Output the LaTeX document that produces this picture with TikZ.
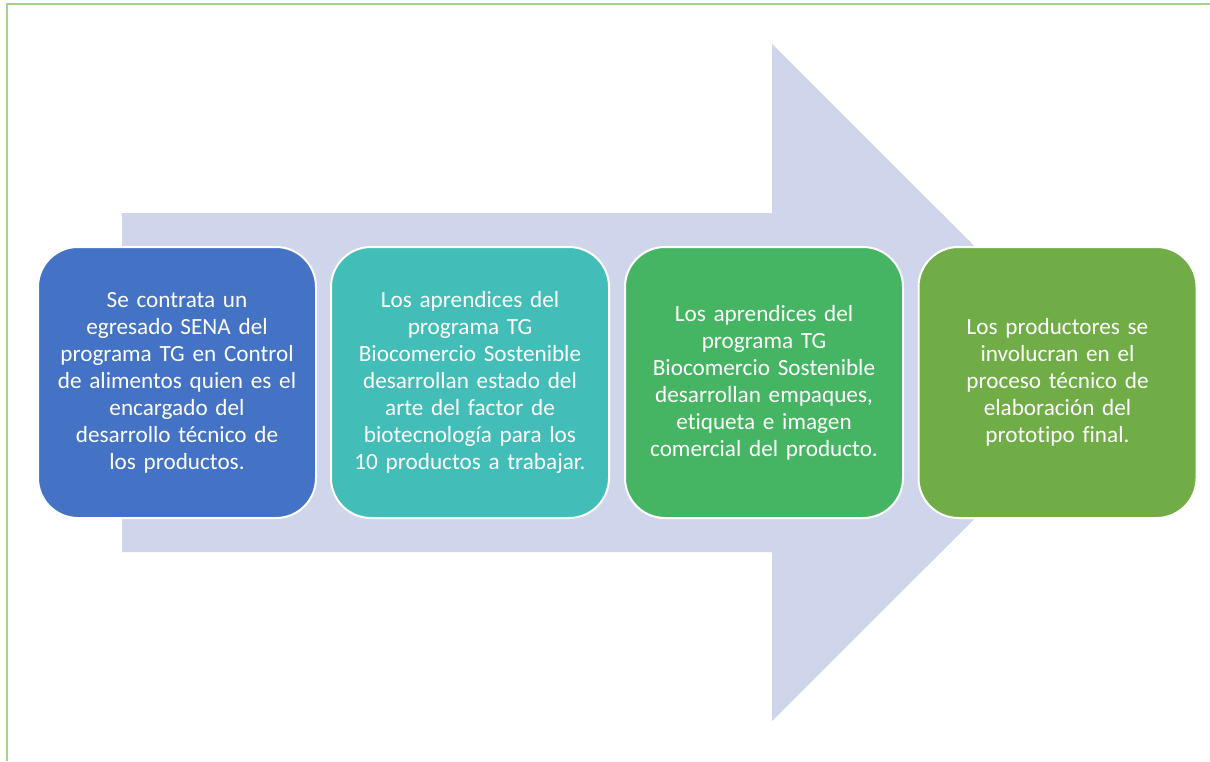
\documentclass[tikz,border=0pt]{standalone}
\usepackage{fontspec}
\setmainfont{Carlito}[Ligatures=NoCommon]
\definecolor{arrowfill}{HTML}{CFD5EA}
\definecolor{frameline}{HTML}{A9D18E}
\definecolor{cA}{HTML}{4472C4}
\definecolor{cB}{HTML}{42BDB7}
\definecolor{cC}{HTML}{46B563}
\definecolor{cD}{HTML}{70AD47}
\tikzset{
  stepbox/.style={rounded corners=40pt, draw=white, line width=2pt,
    minimum width=278pt, minimum height=271pt, text width=270pt,
    align=center, text=white, inner sep=0pt,
    font=\fontsize{23.2}{27}\selectfont},
}
\begin{document}
\begin{tikzpicture}[x=1pt,y=-1pt]
\useasboundingbox (0,0) rectangle (1210,761);
\fill[white] (0,0) rectangle (1210,761);
% frame
\draw[frameline, line width=1.5pt] (7,761) -- (7,4) -- (1210,4);
% big arrow
\fill[arrowfill] (122,213) -- (772,213) -- (772,44) -- (1111,382.5)
  -- (772,721) -- (772,552) -- (122,552) -- cycle;
% steps
\node[stepbox, fill=cA] (s1) at (177,382.5) {Se contrata un\\egresado SENA del\\programa TG en Control\\de alimentos quien es el\\encargado del\\desarrollo técnico de\\los productos.};
\node[stepbox, fill=cB] (s2) at (470,382.5) {Los aprendices del\\programa TG\\Biocomercio Sostenible\\desarrollan estado del\\arte del factor de\\biotecnología para los\\10 productos a trabajar.};
\node[stepbox, fill=cC] (s3) at (764,382.5) {Los aprendices del\\programa TG\\Biocomercio Sostenible\\desarrollan empaques,\\etiqueta e imagen\\comercial del producto.};
\node[stepbox, fill=cD] (s4) at (1057.5,382.5) {Los productores se\\involucran en el\\proceso técnico de\\elaboración del\\prototipo final.};
\end{tikzpicture}
\end{document}
